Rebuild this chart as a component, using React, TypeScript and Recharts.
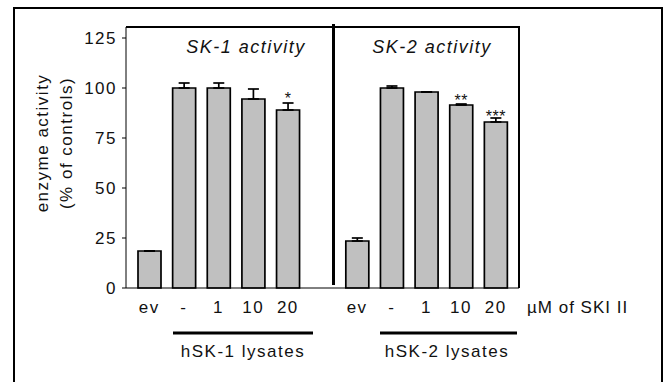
import { BarChart, Bar, XAxis, YAxis, ErrorBar, LabelList } from "recharts";

// one slot per x position, the empty slot separates the two panels
const categories = ["ev", "-", "1", "10", "20", "", "ev", "-", "1", "10", "20"];
const activity = [18.5, 100, 100, 94.5, 89, null, 23.5, 100, 98, 91.5, 83];
const sem = [0, 2.5, 2.5, 5, 3.5, null, 1.5, 1, 0, 0.5, 2];
const stars = ["", "", "", "", "*", "", "", "", "", "**", "***"];
const yTicks = [0, 25, 50, 75, 100, 125];

const data = categories.map((c, i) => ({
	id: `c${i}`,
	label: c,
	activity: activity[i],
	err: [0, sem[i] ?? 0],
	star: stars[i],
}));

const font = "'Liberation Sans', Arial, sans-serif";
const ink = "#111";

const StarLabel = (props: any) => {
	const { index, value } = props;
	if (!value) return null;
	const vb = props.viewBox ?? props;
	const x = vb.x ?? props.x;
	const y = vb.y ?? props.y;
	const width = vb.width ?? props.width;
	const height = vb.height ?? props.height;
	const perUnit = height / (activity[index] as number);
	const top = y - (sem[index] as number) * perUnit;
	return (
		<text
			x={x + width / 2}
			y={top + 1}
			textAnchor="middle"
			fontSize={16}
			fontFamily={font}
			fill={ink}
			letterSpacing={0.5}
		>
			{value}
		</text>
	);
};

const App = () => {
	return (
		<div
			style={{
				position: "absolute",
				left: 0,
				top: 0,
				width: 669,
				height: 382,
				background: "#fff",
				fontFamily: font,
			}}
		>
			<BarChart
				width={669}
				height={382}
				data={data}
				margin={{ top: 27, right: 150, bottom: 64, left: 66 }}
				barCategoryGap={0}
			>
				<XAxis
					dataKey="id"
					height={30}
					padding={{ left: 6, right: 6 }}
					tickLine={false}
					tickSize={6}
					tickMargin={7}
					interval={0}
					stroke="#000"
					tickFormatter={(_v: any, i: number) => categories[i]}
					tick={{ fontSize: 17, fill: ink, fontFamily: font, letterSpacing: 1.5 }}
				/>
				<YAxis
					width={60}
					domain={[0, 130.5]}
					ticks={yTicks}
					tickSize={4}
					tickMargin={5}
					stroke="#000"
					tick={{ fontSize: 17, fill: ink, fontFamily: font, letterSpacing: 1.5 }}
				/>
				<Bar
					dataKey="activity"
					fill="#c0c0c0"
					stroke="#000"
					strokeWidth={1.7}
					barSize={23}
					isAnimationActive={false}
				>
					<ErrorBar
						dataKey="err"
						width={5.5}
						stroke="#000"
						strokeWidth={1.7}
						direction="y"
						isAnimationActive={false}
					/>
					<LabelList dataKey="star" content={StarLabel} />
				</Bar>
			</BarChart>
			<svg
				width={669}
				height={382}
				style={{ position: "absolute", left: 0, top: 0, pointerEvents: "none" }}
				fontFamily={font}
			>
				<rect x={14} y={8} width={648} height={380} fill="none" stroke="#000" strokeWidth={2} />
				{/* plot box outline */}
				<line x1={126} y1={27} x2={520} y2={27} stroke="#000" strokeWidth={2} />
				<line x1={519} y1={26} x2={519} y2={288} stroke="#000" strokeWidth={2} />
				<line x1={333.5} y1={24} x2={333.5} y2={285} stroke="#000" strokeWidth={3} />

				<text x={246} y={53} textAnchor="middle" fontSize={18} fontStyle="italic" letterSpacing={1.5} fill={ink}>
					SK-1 activity
				</text>
				<text x={432} y={53} textAnchor="middle" fontSize={18} fontStyle="italic" letterSpacing={1.5} fill={ink}>
					SK-2 activity
				</text>

				<text x={527} y={313} fontSize={17} letterSpacing={1} fill={ink}>
					µM of SKI II
				</text>

				<line x1={173} y1={333} x2={313} y2={333} stroke="#000" strokeWidth={3} />
				<line x1={380} y1={333} x2={517} y2={333} stroke="#000" strokeWidth={3} />
				<text x={243} y={357} textAnchor="middle" fontSize={17} letterSpacing={1.5} fill={ink}>
					hSK-1 lysates
				</text>
				<text x={447} y={357} textAnchor="middle" fontSize={17} letterSpacing={1.5} fill={ink}>
					hSK-2 lysates
				</text>

				<text
					transform="translate(42,143) rotate(-90)"
					textAnchor="middle"
					dominantBaseline="central"
					fontSize={17}
					letterSpacing={1.5}
					fill={ink}
				>
					enzyme activity
				</text>
				<text
					transform="translate(66,143) rotate(-90)"
					textAnchor="middle"
					dominantBaseline="central"
					fontSize={17}
					letterSpacing={1.5}
					fill={ink}
				>
					(% of controls)
				</text>
			</svg>
		</div>
	);
};

export default App;
